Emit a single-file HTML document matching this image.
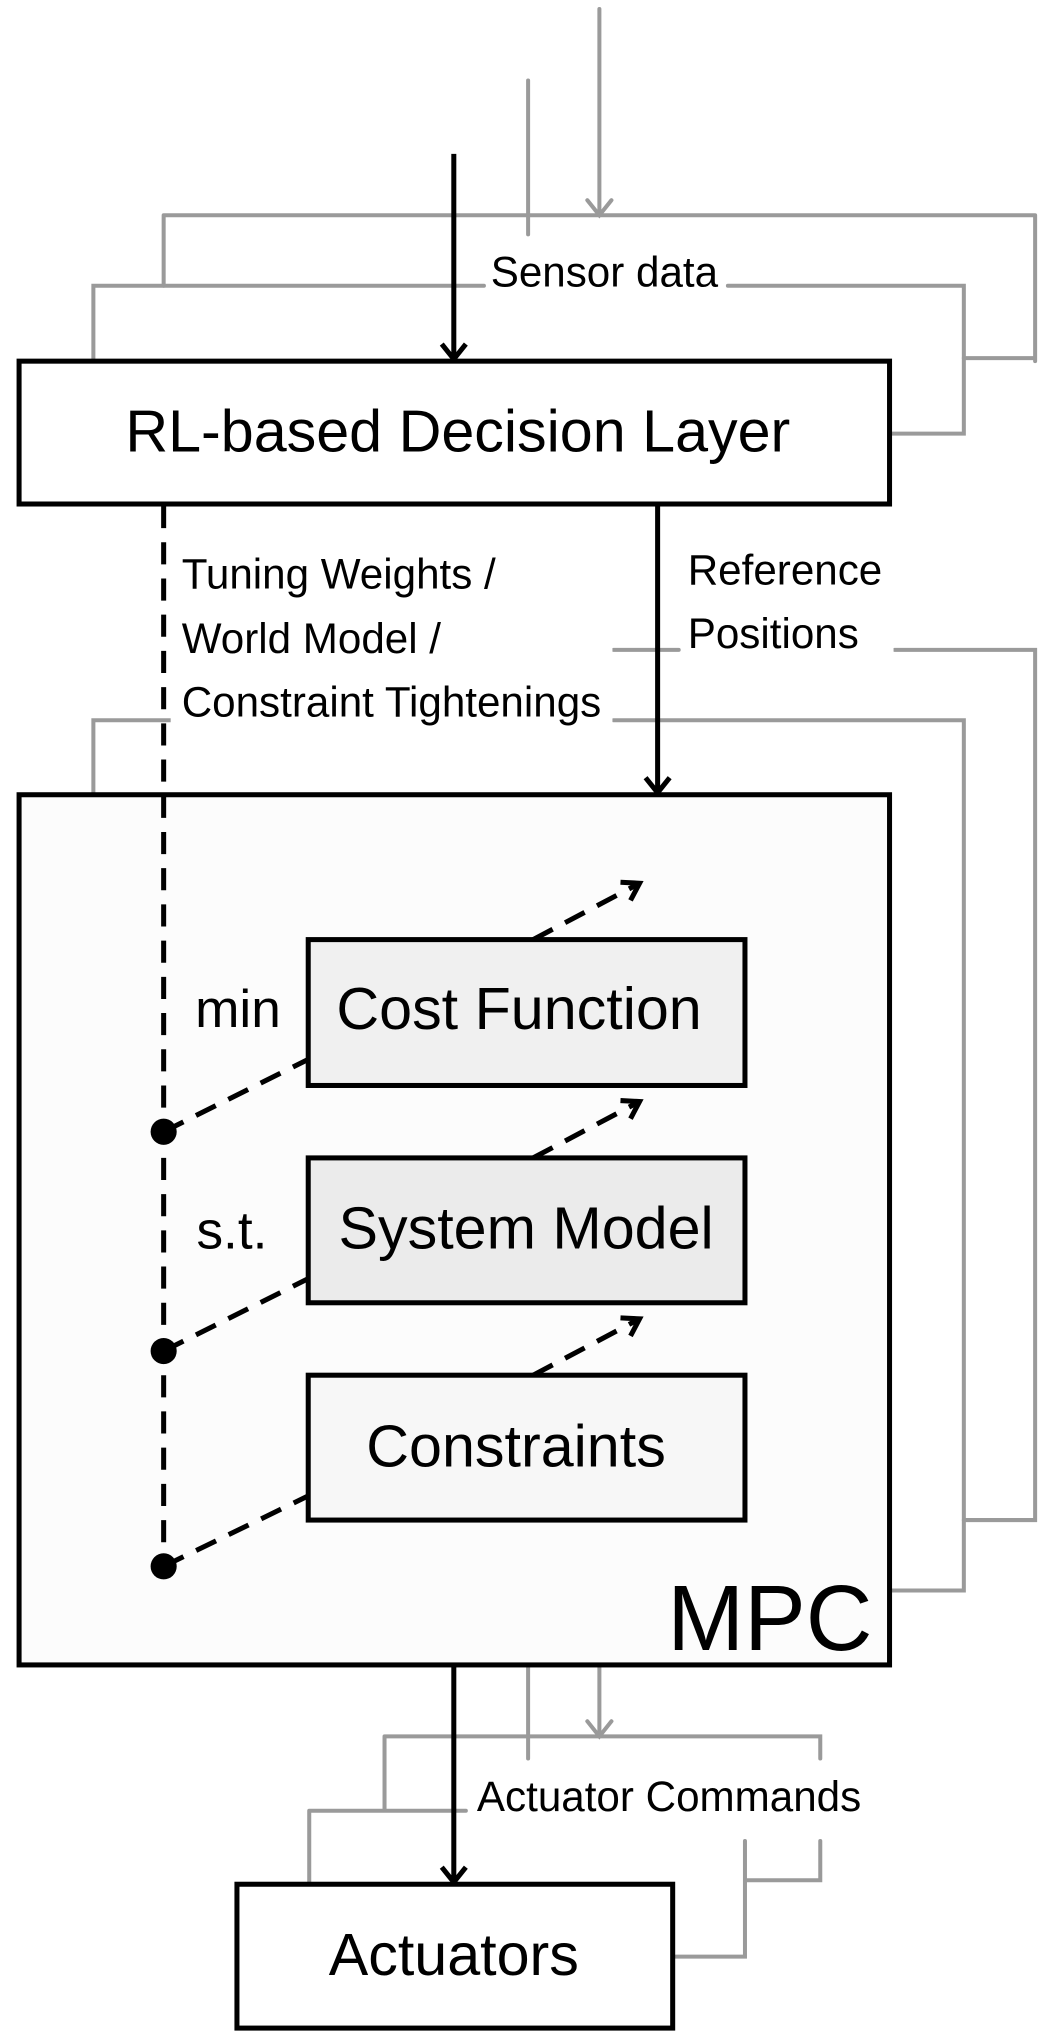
<!DOCTYPE html>
<html><head><meta charset="utf-8"><style>html,body{margin:0;padding:0;background:#fff}svg{display:block}</style></head>
<body>
<svg width="1062" height="2041" viewBox="0 0 1062 2041" xmlns="http://www.w3.org/2000/svg" font-family="Liberation Sans, Arial, sans-serif">
<g transform="scale(1.004,1.006)">
<g stroke="#9a9a9a" stroke-width="4" fill="none" stroke-linecap="round">
<path d="M597 9V214M585 199L597 214L609 199"/>
<path d="M526 80V233"/>
<path d="M163 214H1031M163 214V284M1031 214V359M960 356H1031"/>
<path d="M93 359V284H482M725 284H960V431H886"/>
<path d="M611 646H676M891 646H1031V1511H960"/>
<path d="M93 790V716H171M611 716H960V1581H886"/>
<path d="M526 1655V1748M597 1655V1726M585 1711L597 1726L609 1711"/>
<path d="M383 1726H817V1748M383 1726V1800M308 1800H464M308 1800V1873"/>
<path d="M817 1830V1869H742M742 1830V1945H670"/>
</g>
<g stroke="#000" stroke-width="5" fill="none">
<rect x="19" y="359" width="867" height="142" fill="#fff"/>
<rect x="19" y="790" width="867" height="865" fill="#fcfcfc"/>
<rect x="236" y="1873" width="434" height="143" fill="#fff"/>
<rect x="307" y="934" width="435" height="145" fill="#f0f0f0"/>
<rect x="307" y="1151" width="435" height="144" fill="#ebebeb"/>
<rect x="307" y="1367" width="435" height="144" fill="#f7f7f7"/>
<path d="M452 153V357M440 342L452 357L464 342"/>
<path d="M655 501V788M643 773L655 788L667 773"/>
<path d="M452 1655V1871M440 1856L452 1871L464 1856"/>
<g stroke-dasharray="22,14">
<path d="M163 503V1557"/>
<path d="M163 1125L307 1053M163 1343L307 1271M163 1557L307 1487"/>
<path d="M531 934L637 878M531 1151L637 1095M531 1367L637 1311"/>
</g>
<path d="M618 877L637 878L628 895M618 1094L637 1095L628 1112M618 1310L637 1311L628 1328"/>
</g>
<g fill="#000"><circle cx="163" cy="1125" r="13"/><circle cx="163" cy="1343" r="13"/><circle cx="163" cy="1557" r="13"/></g>
<g fill="#fff"><rect x="170" y="550" width="440" height="180"/><rect x="680" y="545" width="210" height="110"/></g>
<g fill="#000">
<text x="602" y="285" font-size="42" text-anchor="middle">Sensor data</text>
<text x="456" y="449" font-size="59" text-anchor="middle">RL-based Decision Layer</text>
<text x="181" y="585" font-size="42">Tuning Weights /</text>
<text x="181" y="649" font-size="42">World Model /</text>
<text x="181" y="712" font-size="42">Constraint Tightenings</text>
<text x="685" y="581" font-size="42">Reference</text>
<text x="685" y="644" font-size="42">Positions</text>
<text x="237" y="1021" font-size="53" text-anchor="middle">min</text>
<text x="231" y="1241" font-size="53" text-anchor="middle">s.t.</text>
<text x="517" y="1023" font-size="59" text-anchor="middle">Cost Function</text>
<text x="524" y="1241" font-size="59" text-anchor="middle">System Model</text>
<text x="514" y="1458" font-size="59" text-anchor="middle">Constraints</text>
<text x="869" y="1640" font-size="92" text-anchor="end">MPC</text>
<text x="475" y="1800" font-size="42">Actuator Commands</text>
<text x="452" y="1963" font-size="59" text-anchor="middle">Actuators</text>
</g>
</g>
</svg>
</body></html>
